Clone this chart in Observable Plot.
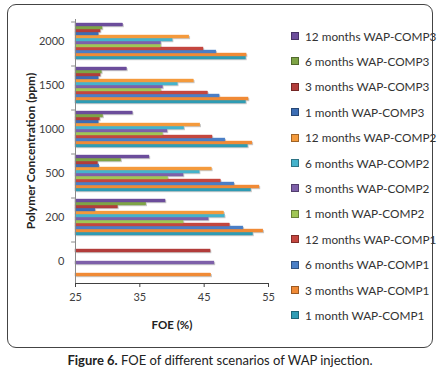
<!DOCTYPE html>
<html>
<head>
<meta charset="utf-8">
<script src="https://cdn.jsdelivr.net/npm/d3@7"></script>
<script src="https://cdn.jsdelivr.net/npm/@observablehq/plot@0.6"></script>
<style>
  body { margin: 0; background: #fff; }
  #wrap { position: relative; width: 440px; height: 377px; font-family: Lato, "Open Sans", sans-serif; color: #333; }
  #border { position: absolute; left: 7px; top: 4px; width: 424px; height: 342px; border: 1px solid #444; border-radius: 9px; }
  #plot { position: absolute; left: 0; top: 0; }
  #ytitle { position: absolute; left: 30px; top: 151px; transform: translate(-50%, -50%) rotate(-90deg); font-weight: bold; font-size: 12px; white-space: nowrap; color: #222; }
  #xtitle { position: absolute; left: 172px; top: 324px; transform: translate(-50%, -50%); font-weight: bold; font-size: 11.5px; color: #222; white-space: nowrap; }
  #legend { position: absolute; left: 291px; top: 29px; }
  .item { position: absolute; left: 0; height: 14px; display: flex; align-items: center; font-size: 11.8px; white-space: nowrap; color: #333; }
  .sw { width: 6px; height: 6px; margin-right: 6px; border: 1px solid rgba(0,0,0,0.35); }
  #caption { position: absolute; left: 0; width: 440px; top: 352px; text-align: center; font-size: 13px; color: #222; }
</style>
</head>
<body>
<div id="wrap">
  <div id="border"></div>
  <div id="plot"></div>
  <div id="ytitle">Polymer Concentration (ppm)</div>
  <div id="xtitle">FOE (%)</div>
  <div id="legend"></div>
  <div id="caption"><b>Figure 6.</b> FOE of different scenarios of WAP injection.</div>
</div>
<script>
// Categories (polymer concentration, ppm), bottom to top
const concentrations = ["0", "200", "500", "1000", "1500", "2000"];

// Series names (legend order bottom to top)
const seriesNames = [
  "1 month WAP-COMP1", "3 months WAP-COMP1", "6 months WAP-COMP1", "12 months WAP-COMP1",
  "1 month WAP-COMP2", "3 months WAP-COMP2", "6 months WAP-COMP2", "12 months WAP-COMP2",
  "1 month WAP-COMP3", "3 months WAP-COMP3", "6 months WAP-COMP3", "12 months WAP-COMP3"
];

// FOE (%) values, one entry per concentration (0, 200, 500, 1000, 1500, 2000)
const m1Comp1  = [null, 52.6, 52.3, 51.8, 51.5, 51.5];
const m3Comp1  = [46.1, 54.2, 53.6, 52.5, 51.9, 51.6];
const m6Comp1  = [null, 51.1, 49.7, 48.3, 47.4, 46.9];
const m12Comp1 = [null, 49.0, 47.6, 46.3, 45.6, 44.9];
const m1Comp2  = [null, 41.8, 39.4, 38.6, 38.3, 38.3];
const m3Comp2  = [46.6, 45.7, 41.8, 39.3, 38.6, 38.3];
const m6Comp2  = [null, 48.2, 44.3, 41.9, 40.9, 40.1];
const m12Comp2 = [null, 48.1, 46.2, 44.4, 43.4, 42.7];
const m1Comp3  = [null, 28.1, 28.7, 28.6, 28.6, 28.6];
const m3Comp3  = [46.0, 31.6, 28.5, 28.8, 28.9, 28.9];
const m6Comp3  = [null, 36.0, 32.1, 29.3, 29.1, 29.2];
const m12Comp3 = [null, 39.0, 36.5, 33.9, 33.0, 32.4];

const seriesValues = [m1Comp1, m3Comp1, m6Comp1, m12Comp1, m1Comp2, m3Comp2, m6Comp2, m12Comp2, m1Comp3, m3Comp3, m6Comp3, m12Comp3];

const seriesColors = [
  "#2f9cb4", "#f08a36", "#4a7fc6", "#c4463f",
  "#a0c655", "#7e60a9", "#45b3cc", "#f49a3c",
  "#3c6db4", "#b23d3b", "#7ea446", "#6c4d9b"
];

const xTicks = [25, 35, 45, 55];

const rows = [];
seriesNames.forEach((s, i) => {
  seriesValues[i].forEach((v, j) => {
    if (v != null) rows.push({series: s, conc: concentrations[j], foe: v});
  });
});

const topSeries = seriesNames[seriesNames.length - 1];

const chart = Plot.plot({
  width: 280,
  height: 335,
  marginLeft: 75,
  marginRight: 12,
  marginTop: 18,
  marginBottom: 51,
  style: {fontFamily: "Lato, sans-serif", fontSize: "11px", color: "#404040", overflow: "visible", background: "transparent"},
  facet: {data: rows, y: "conc"},
  fy: {domain: concentrations.slice().reverse(), padding: 0, label: null, axis: "left", tickSize: 0, tickPadding: 11},
  y: {domain: seriesNames.slice().reverse(), paddingInner: 0.12, paddingOuter: 0.4, axis: null},
  x: {domain: [25, 55], ticks: xTicks, tickSize: 4, tickPadding: 6, label: null, line: true, axis: "bottom"},
  color: {domain: seriesNames, range: seriesColors},
  marks: [
    Plot.barX(rows, {x1: 25, x2: "foe", y: "series", fill: "#c8c8c8", dx: 1.2, dy: 1.2}),
    Plot.barX(rows, {x1: 25, x2: "foe", y: "series", fill: "series", stroke: "series", strokeWidth: 0.4}),
    Plot.ruleX([25], {stroke: "#8a8a8a"}),
    Plot.ruleY([topSeries], {x1: 24.4, x2: 25, stroke: "#8a8a8a", dy: -3})
  ]
});
document.getElementById("plot").appendChild(chart);

// Legend (top to bottom = reverse series order)
const legend = document.getElementById("legend");
seriesNames.slice().reverse().forEach((s, k) => {
  const i = seriesNames.indexOf(s);
  const el = document.createElement("div");
  el.className = "item";
  el.style.top = (k * 25.4) + "px";
  el.innerHTML = `<span class="sw" style="background:${seriesColors[i]}"></span>${s}`;
  legend.appendChild(el);
});
</script>
</body>
</html>
